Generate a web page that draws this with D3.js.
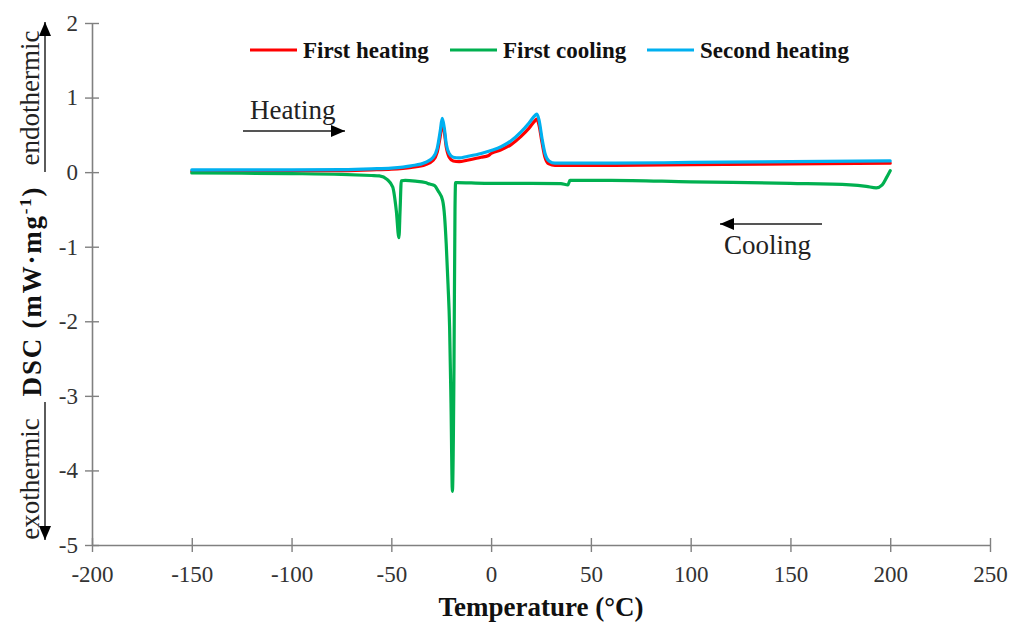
<!DOCTYPE html>
<html>
<head>
<meta charset="utf-8">
<script src="https://cdn.jsdelivr.net/npm/d3@7/dist/d3.min.js"></script>
<style>
  html, body { margin: 0; padding: 0; background: #fff; }
  svg { display: block; }
  text { font-family: "Liberation Serif", "Times New Roman", serif; }
  .tick text { font-family: "Liberation Serif", serif !important; }
</style>
</head>
<body>
<svg id="chart" width="1010" height="623"></svg>
<script>
// ---------------- DATA ----------------
const xTicks = [-200, -150, -100, -50, 0, 50, 100, 150, 200, 250];
const yTicks = [2, 1, 0, -1, -2, -3, -4, -5];

const seriesNames = ["First heating", "First cooling", "Second heating"];
const seriesColors = ["#ff0000", "#00b050", "#00b0f0"];

// First heating (temperature, DSC)
const heat1T = [-150, -125, -100, -75, -60, -50, -40, -33, -29, -27, -25.5, -24.5, -23.5, -22.5, -21, -19, -16, -12, -5, -1.5, 0, 5, 10, 15, 19, 22, 23, 24, 25.5, 27, 29, 32, 40, 60, 100, 150, 200];
const heat1V = [0.01, 0.012, 0.015, 0.02, 0.03, 0.04, 0.065, 0.1, 0.16, 0.27, 0.48, 0.65, 0.55, 0.34, 0.2, 0.15, 0.14, 0.16, 0.2, 0.22, 0.25, 0.3, 0.37, 0.48, 0.59, 0.69, 0.71, 0.63, 0.4, 0.2, 0.11, 0.09, 0.09, 0.09, 0.1, 0.11, 0.12];

// Second heating
const heat2T = [-150, -125, -100, -75, -60, -50, -40, -33, -29, -27, -25.5, -24.5, -23.5, -22.5, -21, -19, -16, -12, -5, 0, 5, 10, 15, 19, 22, 23, 24, 25.5, 27, 29, 32, 40, 60, 100, 150, 200];
const heat2V = [0.03, 0.03, 0.03, 0.035, 0.045, 0.055, 0.085, 0.13, 0.2, 0.32, 0.55, 0.72, 0.6, 0.38, 0.25, 0.2, 0.19, 0.21, 0.25, 0.29, 0.34, 0.42, 0.54, 0.66, 0.76, 0.78, 0.7, 0.45, 0.25, 0.15, 0.12, 0.12, 0.12, 0.13, 0.14, 0.15];

// First cooling
const coolT = [-150, -125, -100, -75, -60, -56, -52, -49.3, -47.5, -46.2, -45.6, -45, -43, -38, -33, -30.8, -28.3, -26.6, -24.3, -23.3, -22.5, -21.6, -20.8, -20.1, -19.4, -18.6, -18.1, -17.8, -17, -10, 0, 20, 35, 38.5, 39.5, 45, 60, 100, 150, 180, 188, 193, 196, 198, 200];
const coolV = [-0.01, -0.015, -0.02, -0.03, -0.045, -0.05, -0.1, -0.2, -0.52, -0.88, -0.5, -0.115, -0.11, -0.12, -0.14, -0.16, -0.18, -0.25, -0.38, -0.6, -0.96, -1.5, -2.08, -3.1, -4.28, -2.6, -0.5, -0.14, -0.14, -0.145, -0.15, -0.15, -0.155, -0.17, -0.11, -0.11, -0.11, -0.13, -0.15, -0.17, -0.19, -0.21, -0.17, -0.08, 0.02];

// ---------------- LAYOUT ----------------
const svg = d3.select("#chart");
const x = d3.scaleLinear().domain([-200, 250]).range([92, 990]);
const y = d3.scaleLinear().domain([-5, 2]).range([545, 23]);
const axisColor = "#808080";
const font = '"Liberation Serif", "Times New Roman", serif';
const fmt = d => String(d);

// Axes
const gx = svg.append("g").attr("transform", `translate(0,${y(-5)})`)
  .call(d3.axisBottom(x).tickValues(xTicks).tickFormat(fmt).tickSize(7).tickPadding(14).tickSizeOuter(0));
const gy = svg.append("g").attr("transform", `translate(${x(-200)},0)`)
  .call(d3.axisLeft(y).tickValues(yTicks).tickFormat(fmt).tickSize(7).tickPadding(7).tickSizeOuter(0));

[gx, gy].forEach(g => {
  g.attr("font-family", font).attr("font-size", 23);
  g.select(".domain").attr("stroke", axisColor).attr("stroke-width", 1.6);
  g.selectAll(".tick line").attr("stroke", axisColor).attr("stroke-width", 1.4);
  g.selectAll(".tick text").attr("fill", "#333").attr("font-family", font).style("font-size", "23px");
});
gx.selectAll(".tick line").attr("y1", -7).attr("y2", 7);
gy.selectAll(".tick line").attr("x1", -7).attr("x2", 7);

// Lines
const line = d3.line().x(d => x(d[0])).y(d => y(d[1])).curve(d3.curveMonotoneX);
const zip = (a, b) => a.map((t, i) => [t, b[i]]);
const series = [
  { data: zip(heat1T, heat1V), color: seriesColors[0] },
  { data: zip(coolT, coolV), color: seriesColors[1] },
  { data: zip(heat2T, heat2V), color: seriesColors[2] }
];
svg.append("g").selectAll("path").data(series).join("path")
  .attr("d", d => line(d.data))
  .attr("fill", "none")
  .attr("stroke", d => d.color)
  .attr("stroke-width", 3.2)
  .attr("stroke-linejoin", "round")
  .attr("stroke-linecap", "round");

// Legend
const legendX = [250, 450, 647];
const lg = svg.append("g");
seriesNames.forEach((name, i) => {
  lg.append("line").attr("x1", legendX[i]).attr("x2", legendX[i] + 47)
    .attr("y1", 50).attr("y2", 50).attr("stroke", seriesColors[i]).attr("stroke-width", 3.2);
  lg.append("text").attr("x", legendX[i] + 53).attr("y", 58)
    .style("font-size", "23px").style("font-weight", "bold").attr("fill", "#111").text(name);
});

// Arrow marker
const defs = svg.append("defs");
defs.append("marker").attr("id", "arr").attr("viewBox", "0 0 14 12")
  .attr("refX", 14).attr("refY", 6).attr("markerWidth", 14).attr("markerHeight", 12)
  .attr("markerUnits", "userSpaceOnUse").attr("orient", "auto")
  .append("path").attr("d", "M0,0 L14,6 L0,12 Z").attr("fill", "#000");

// Heating annotation
svg.append("text").attr("x", 250).attr("y", 119).style("font-size", "27px").attr("fill", "#222").text("Heating");
svg.append("line").attr("x1", 243).attr("x2", 345).attr("y1", 131).attr("y2", 131)
  .attr("stroke", "#555").attr("stroke-width", 2).attr("marker-end", "url(#arr)");

// Cooling annotation
svg.append("text").attr("x", 724).attr("y", 254).style("font-size", "27px").attr("fill", "#222").text("Cooling");
svg.append("line").attr("x1", 822).attr("x2", 720).attr("y1", 224).attr("y2", 224)
  .attr("stroke", "#555").attr("stroke-width", 2).attr("marker-end", "url(#arr)");

// X-axis title
svg.append("text").attr("x", 541).attr("y", 616).attr("text-anchor", "middle")
  .style("font-size", "27px").style("font-weight", "bold").attr("fill", "#111").text("Temperature (°C)");

// Y-axis title pieces
const yt = svg.append("g");
yt.append("text").attr("transform", "translate(39,98) rotate(-90)").attr("text-anchor", "middle")
  .style("font-size", "27px").attr("fill", "#222").text("endothermic");
const dsc = yt.append("text").attr("transform", "translate(41,291) rotate(-90)").attr("text-anchor", "middle")
  .style("font-size", "27px").style("font-weight", "bold").style("letter-spacing", "1.8px").attr("fill", "#111");
dsc.append("tspan").text("DSC (mW·mg");
dsc.append("tspan").attr("dy", -10).style("font-size", "17px").text("-1");
dsc.append("tspan").attr("dy", 10).text(")");
yt.append("text").attr("transform", "translate(39,479) rotate(-90)").attr("text-anchor", "middle")
  .style("font-size", "27px").attr("fill", "#222").text("exothermic");
yt.append("line").attr("x1", 45).attr("x2", 45).attr("y1", 172).attr("y2", 22)
  .attr("stroke", "#333").attr("stroke-width", 1.6).attr("marker-end", "url(#arr)");
yt.append("line").attr("x1", 45).attr("x2", 45).attr("y1", 402).attr("y2", 540)
  .attr("stroke", "#333").attr("stroke-width", 1.6).attr("marker-end", "url(#arr)");
</script>
</body>
</html>
